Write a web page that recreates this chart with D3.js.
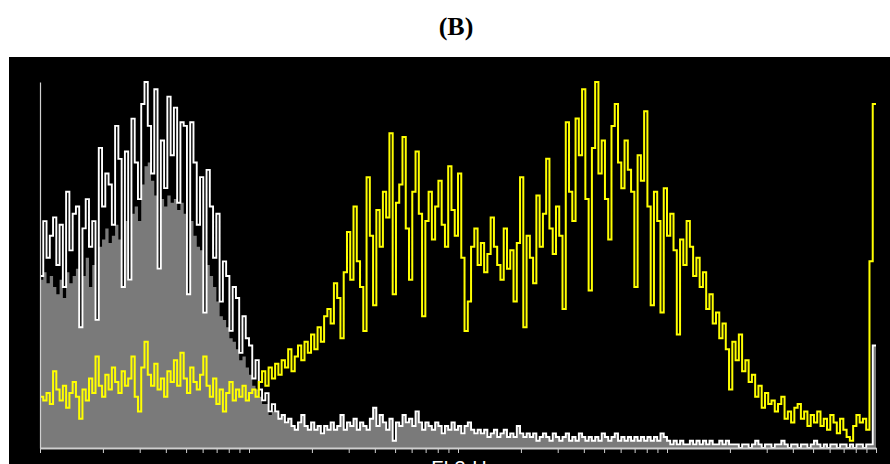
<!DOCTYPE html>
<html>
<head>
<meta charset="utf-8">
<script src="https://cdn.jsdelivr.net/npm/d3@7"></script>
<style>
  html, body { margin: 0; padding: 0; background: #ffffff; }
  svg { display: block; }
</style>
</head>
<body>
<svg id="chart" width="890" height="464"></svg>
<script>
// Panel title and axis label
const panelTitle = "(B)";
const axisLabel = "FL3-H";

// Log fluorescence axis (four decades) and its tick positions
const axisDomain = [1, 10000];
const tickValues = [1, 2, 3, 4, 5, 6, 7, 8, 9,
  10, 20, 30, 40, 50, 60, 70, 80, 90,
  100, 200, 300, 400, 500, 600, 700, 800, 900,
  1000, 2000, 3000, 4000, 5000, 6000, 7000, 8000, 9000, 10000];
const countMax = 100;

// Stained sample histogram (256 log channels), yellow outline
const sample = [
  14,13,15,12,21,16,13,17,11,15,
  18,14,8,16,13,19,15,25,17,14,
  20,16,22,18,15,21,17,19,25,14,
  10,22,29,20,17,23,16,19,14,21,
  18,24,17,26,19,15,22,18,16,20,
  25,17,14,19,12,16,10,15,18,13,
  16,14,17,13,15,16,14,
  18,21,17,22,19,23,20,24,22,27,
  21,25,28,24,29,26,31,27,33,29,
  36,38,34,45,41,30,48,59,46,66,
  51,44,32,74,58,39,65,55,70,63,
  86,42,67,72,85,60,46,70,81,64,
  36,62,70,57,66,73,61,55,77,65,
  58,75,52,32,40,55,60,50,56,48,
  53,63,55,50,46,60,49,54,40,56,
  74,33,58,52,45,69,55,64,79,60,
  53,66,58,38,89,70,62,90,80,98,
  68,43,82,100,75,84,68,57,88,94,
  78,71,84,76,70,44,80,73,92,66,
  39,70,62,37,71,58,64,54,31,57,
  50,62,55,47,52,44,48,38,42,34,
  37,30,34,27,16,29,24,31,21,24,
  18,20,14,17,11,15,12,13,10,12,
  14,8,10,7,11,12,8,10,6,9,
  7,10,6,8,5,9,7,4,8,5,
  3,2,6,9,7,8,5,51,94
];

// Unstained control histogram, white outline
const control = [
  47,62,52,58,63,50,61,44,70,54,
  64,66,33,60,68,55,62,35,82,66,
  75,72,61,88,79,44,81,46,90,78,
  68,94,100,88,75,98,49,84,71,96,
  80,93,67,89,88,42,89,78,61,74,
  37,76,66,52,64,40,51,47,32,44,
  41,26,36,30,28,19,24,16,13,15,
  10,12,
  10,8,9,7,8,6,5,7,9,6,
  5,7,5,6,4,6,5,7,5,6,
  9,5,7,6,8,5,7,6,5,8,
  11,6,9,7,5,8,2,7,6,9,
  7,8,6,10,7,5,7,6,5,7,
  6,4,6,5,7,5,6,4,6,7,
  5,4,5,4,5,3,4,5,3,4,
  5,3,4,3,6,4,3,4,3,4,
  2,3,4,3,2,4,3,2,3,4,
  2,3,2,4,3,2,3,2,3,2,
  4,3,2,3,4,2,3,2,3,2,
  3,2,3,2,3,2,3,2,4,3,
  2,1,2,1,2,1,1,2,1,2,
  1,2,1,2,1,1,2,1,2,1,
  1,
  1,0,1,1,0,1,2,1,0,1,
  1,0,1,1,2,1,0,1,1,0,
  1,1,0,1,2,1,0,1,0,1,
  1,0,1,1,0,1,0,1,1,0,
  1,
  1,28
];

// Filled body of the control histogram, grey
const controlFill = [
  46,48,45,47,44,42,46,41,48,45,
  47,49,33,47,52,44,50,35,55,57,
  60,56,58,61,57,44,62,46,64,66,
  62,72,77,78,73,69,49,68,66,69,
  67,68,65,67,64,42,62,58,55,54,
  37,50,47,44,40,36,35,33,30,29,
  27,24,25,22,20,17,16,14,12,12,
  9,10,
  10,8,9,7,8,6,5,7,9,6,
  5,7,5,6,4,6,5,7,5,6,
  9,5,7,6,8,5,7,6,5,8,
  11,6,9,7,5,8,2,7,6,9,
  7,8,6,10,7,5,7,6,5,7,
  6,4,6,5,7,5,6,4,6,7,
  5,4,5,4,5,3,4,5,3,4,
  5,3,4,3,6,4,3,4,3,4,
  2,3,4,3,2,4,3,2,3,4,
  2,3,2,4,3,2,3,2,3,2,
  4,3,2,3,4,2,3,2,3,2,
  3,2,3,2,3,2,3,2,4,3,
  2,1,2,1,2,1,1,2,1,2,
  1,2,1,2,1,1,2,1,2,1,
  1,
  1,0,1,1,0,1,2,1,0,1,
  1,0,1,1,2,1,0,1,1,0,
  1,1,0,1,2,1,0,1,0,1,
  1,0,1,1,0,1,0,1,1,0,
  1,
  1,28
];

const svg = d3.select("#chart");

// Black acquisition window
svg.append("rect")
  .attr("x", 9).attr("y", 57)
  .attr("width", 881).attr("height", 407)
  .attr("fill", "#000000");

const x = d3.scaleLog().domain(axisDomain).range([40, 876]);
const y = d3.scaleLinear().domain([0, countMax]).range([448, 82]);

// Channel i covers [edge(i), edge(i+1)) on the log axis
function edge(i, n) {
  const lo = Math.log10(axisDomain[0]), hi = Math.log10(axisDomain[1]);
  return Math.pow(10, lo + (hi - lo) * i / n);
}
function stepPoints(values) {
  const n = values.length;
  const pts = values.map((v, i) => [x(edge(i, n)), v]);
  pts.push([x(edge(n, n)), values[n - 1]]);
  return pts;
}

const stepLine = d3.line()
  .curve(d3.curveStepAfter)
  .x(d => d[0])
  .y(d => y(d[1]));

const stepArea = d3.area()
  .curve(d3.curveStepAfter)
  .x(d => d[0])
  .y0(y(0))
  .y1(d => y(d[1]));

// Control: grey fill with white outline
svg.append("path")
  .attr("d", stepArea(stepPoints(controlFill)))
  .attr("fill", "#7a7a7a");

svg.append("path")
  .attr("d", stepLine(stepPoints(control)))
  .attr("fill", "none")
  .attr("stroke", "#ffffff")
  .attr("stroke-width", 1.9);

// Sample: yellow outline
svg.append("path")
  .attr("d", stepLine(stepPoints(sample)))
  .attr("fill", "none")
  .attr("stroke", "#ffff00")
  .attr("stroke-width", 2);

// Vertical count axis (no ticks)
const yAxis = svg.append("g")
  .attr("transform", `translate(${x(axisDomain[0])},0)`)
  .call(d3.axisLeft(y).tickValues([]).tickSizeOuter(0));
yAxis.select(".domain").attr("stroke", "#d0d0d0").attr("stroke-width", 1.2);

// Log fluorescence axis
const xAxis = svg.append("g")
  .attr("transform", `translate(0,${y(0)})`)
  .call(d3.axisBottom(x).tickValues(tickValues).tickFormat("").tickSizeInner(5).tickSizeOuter(0));
xAxis.select(".domain").attr("stroke", "#cfcfcf").attr("stroke-width", 2);
xAxis.selectAll(".tick line").attr("stroke", "#cfcfcf").attr("stroke-width", 1);

svg.append("text")
  .attr("x", 459).attr("y", 475)
  .attr("text-anchor", "middle")
  .attr("font-family", "'Liberation Sans', Arial, sans-serif")
  .attr("font-size", 20)
  .attr("fill", "#ffffff")
  .text(axisLabel);

svg.append("text")
  .attr("x", 456).attr("y", 35)
  .attr("text-anchor", "middle")
  .attr("font-family", "'Liberation Serif', 'Times New Roman', serif")
  .attr("font-weight", "bold")
  .attr("font-size", 26)
  .attr("fill", "#000000")
  .text(panelTitle);
</script>
</body>
</html>
